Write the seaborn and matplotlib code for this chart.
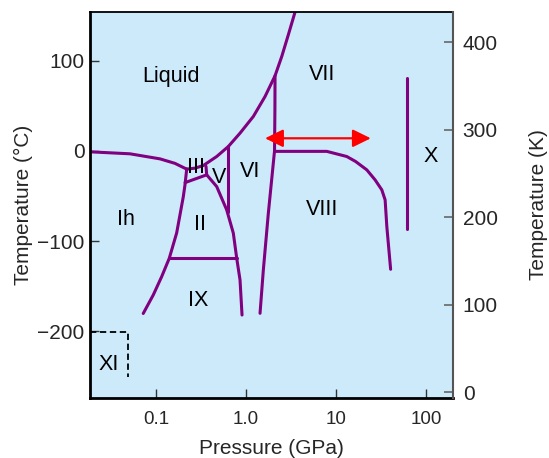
import matplotlib
matplotlib.use("Agg")
import matplotlib.pyplot as plt
from matplotlib.ticker import NullLocator
import seaborn as sns

# Phase boundaries: pressure (GPa), temperature (degC)
ih_liquid_p = [0.0185, 0.0514, 0.1108, 0.1627, 0.2196]
ih_liquid_t = [-1.1, -3.3, -8.9, -13.9, -20.3]

melt_p = [0.2196, 0.2715, 0.3358, 0.4733, 0.6372, 0.8599, 1.209, 1.631, 2.107, 2.502, 2.962, 3.517]
melt_t = [-20.3, -19.2, -16.3, -6.3, 4.8, 19.6, 38.1, 60.2, 83.2, 104.6, 128.7, 153.9]

ih_high_p = [0.2196, 0.2102, 0.2012, 0.1849, 0.1699, 0.1406, 0.1157, 0.0933, 0.0722]
ih_high_t = [-20.3, -37.7, -51.0, -71.0, -91.0, -119.1, -139.5, -159.8, -180.3]

iii_p = [0.2110, 0.3664, 0.3599]
iii_t = [-35.2, -26.6, -17.2]

v_ii_p = [0.3664, 0.4733, 0.6115, 0.7244, 0.7901, 0.8599, 0.9052]
v_ii_t = [-26.6, -39.6, -65.5, -91.3, -119.1, -143.1, -182.0]

v_vi_p = [0.6372, 0.6372]
v_vi_t = [4.8, -67.7]

ix_p = [0.1406, 0.7901]
ix_t = [-119.1, -119.1]

vi_p = [2.107, 2.10, 2.08, 1.775, 1.562, 1.435]
vi_t = [83.2, 45.5, 0.0, -69.1, -132.0, -180.1]

viii_p = [2.08, 7.922, 13.22, 16.61, 22.07, 27.29, 32.41, 35.27, 36.84, 40.60]
viii_t = [-0.6, -0.6, -6.3, -11.9, -21.1, -32.2, -43.3, -54.4, -84.0, -131.3]

x_p = [62.41, 62.41]
x_t = [80.7, -86.9]

xi_p = [0.0185, 0.04918, 0.04918]
xi_t = [-200.8, -200.8, -250.4]

arrow_p = [1.631, 24.44]
arrow_t = 13.9

label_names = ["Liquid", "III", "V", "VI", "Ih", "II", "IX", "XI", "VII", "VIII", "X"]
label_p = [0.1461, 0.2764, 0.4996, 1.111, 0.04662, 0.3126, 0.2955, 0.02978, 7.059, 7.114, 113.9]
label_t = [76.2, -24.7, -35.8, -29.2, -82.1, -87.7, -172.0, -243.0, 78.8, -71.0, -11.9]

x_ticks = [0.1, 1, 10, 100]
x_ticklabels = ["0.1", "1.0", "10", "100"]
c_ticks = [-200, -100, 0, 100]
k_ticks = [0, 100, 200, 300, 400]

sns.set_theme(style="ticks")
plt.rcParams["font.family"] = ["Liberation Sans", "DejaVu Sans"]

fig, ax = plt.subplots(figsize=(5.49, 4.58), dpi=100)
fig.subplots_adjust(left=0.164, right=0.825, bottom=0.131, top=0.974)
ax.set_facecolor("#cdeafb")
ax.set_xscale("log")
ax.set_xlim(0.0185, 200)
ax.set_ylim(-274, 154)

purple = "#800080"
boundaries = [
    (ih_liquid_p, ih_liquid_t),
    (melt_p, melt_t),
    (ih_high_p, ih_high_t),
    (iii_p, iii_t),
    (v_ii_p, v_ii_t),
    (v_vi_p, v_vi_t),
    (ix_p, ix_t),
    (vi_p, vi_t),
    (viii_p, viii_t),
    (x_p, x_t),
]
for p, t in boundaries:
    sns.lineplot(x=p, y=t, ax=ax, color=purple, linewidth=2.2,
                 sort=False, estimator=None)

# ice XI box
ax.plot(xi_p, xi_t, color="black", linewidth=1.3, linestyle=(0, (3.5, 2)))

# red double arrow
ax.annotate("", xy=(arrow_p[1], arrow_t), xytext=(arrow_p[0], arrow_t),
            arrowprops=dict(arrowstyle="<|-|>,head_length=0.55,head_width=0.27",
                            color="red", lw=1.6, mutation_scale=20,
                            shrinkA=0, shrinkB=0))

for name, p, t in zip(label_names, label_p, label_t):
    ax.text(p, t, name, ha="center", va="baseline", fontsize=15.5, color="black")

ax.set_xticks(x_ticks)
ax.set_xticklabels(x_ticklabels)
ax.xaxis.set_minor_locator(NullLocator())
ax.set_yticks(c_ticks)
ax.tick_params(direction="in", length=6.5, width=1, color="#333333")
ax.tick_params(axis="y", labelsize=15, pad=4)
ax.tick_params(axis="x", labelsize=13.5, pad=9)
ax.set_xlabel("Pressure (GPa)", fontsize=15, labelpad=8)
ax.set_ylabel("Temperature (°C)", fontsize=15, labelpad=3)

for side in ["left", "bottom"]:
    ax.spines[side].set_linewidth(2)
    ax.spines[side].set_color("black")
ax.spines["top"].set_linewidth(1.3)
ax.spines["top"].set_color("black")
ax.spines["right"].set_visible(False)

ax2 = ax.twinx()
ax2.set_ylim(-6.6, 434.5)
ax2.set_yticks(k_ticks)
ax2.tick_params(direction="in", length=6.5, width=1.2, color="#666666",
                labelsize=15, pad=7)
ax2.set_ylabel("Temperature (K)", fontsize=15, labelpad=22.5)
for side in ["left", "bottom", "top"]:
    ax2.spines[side].set_visible(False)
ax2.spines["right"].set_linewidth(1.5)
ax2.spines["right"].set_color("#555555")

fig.savefig("out.png", dpi=100)
